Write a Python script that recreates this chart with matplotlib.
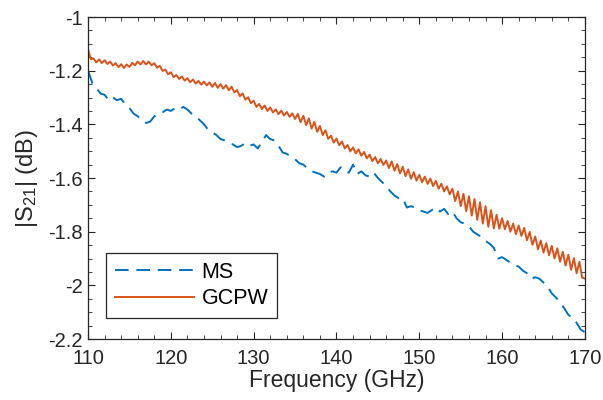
import numpy as np
import matplotlib
matplotlib.use("Agg")
from matplotlib import pyplot as plt
from matplotlib.ticker import MultipleLocator, FormatStrFormatter

# GCPW curve, every 1/3 GHz (ripple included)
freq_gcpw = np.linspace(110, 170, 181)
s21_gcpw = [
    -1.120, -1.157, -1.155, -1.169, -1.158, -1.172, -1.161, -1.175, -1.166, -1.181,
    -1.172, -1.187, -1.176, -1.190, -1.177, -1.186, -1.171, -1.180, -1.166, -1.177,
    -1.164, -1.177, -1.166, -1.180, -1.172, -1.189, -1.182, -1.201, -1.196, -1.213,
    -1.206, -1.224, -1.216, -1.231, -1.222, -1.237, -1.228, -1.243, -1.233, -1.248,
    -1.238, -1.252, -1.241, -1.255, -1.244, -1.260, -1.246, -1.264, -1.250, -1.267,
    -1.254, -1.273, -1.260, -1.281, -1.272, -1.295, -1.285, -1.308, -1.299, -1.321,
    -1.312, -1.335, -1.324, -1.343, -1.330, -1.350, -1.337, -1.356, -1.344, -1.362,
    -1.349, -1.367, -1.354, -1.372, -1.359, -1.380, -1.361, -1.392, -1.368, -1.403,
    -1.378, -1.416, -1.391, -1.428, -1.406, -1.440, -1.422, -1.454, -1.442, -1.468,
    -1.453, -1.478, -1.464, -1.490, -1.477, -1.501, -1.486, -1.508, -1.493, -1.517,
    -1.503, -1.527, -1.513, -1.537, -1.522, -1.545, -1.529, -1.551, -1.535, -1.563,
    -1.538, -1.573, -1.548, -1.583, -1.558, -1.593, -1.568, -1.603, -1.578, -1.610,
    -1.588, -1.616, -1.595, -1.622, -1.602, -1.630, -1.611, -1.640, -1.621, -1.650,
    -1.631, -1.661, -1.640, -1.686, -1.650, -1.705, -1.659, -1.724, -1.668, -1.740,
    -1.678, -1.756, -1.690, -1.770, -1.705, -1.782, -1.720, -1.788, -1.737, -1.789,
    -1.750, -1.791, -1.760, -1.800, -1.770, -1.809, -1.777, -1.816, -1.786, -1.832,
    -1.801, -1.849, -1.818, -1.866, -1.833, -1.878, -1.843, -1.888, -1.853, -1.900,
    -1.862, -1.912, -1.875, -1.926, -1.886, -1.942, -1.899, -1.955, -1.912, -1.971,
    -1.975,
]

# MS curve, read every 0.5 GHz
freq_ms = np.linspace(110, 170, 121)
s21_ms = [
    -1.200, -1.245, -1.265, -1.285, -1.290, -1.310, -1.300, -1.310, -1.305, -1.325,
    -1.340, -1.360, -1.370, -1.385, -1.395, -1.390, -1.370, -1.360, -1.355, -1.345,
    -1.350, -1.340, -1.345, -1.335, -1.345, -1.360, -1.370, -1.385, -1.400, -1.420,
    -1.430, -1.440, -1.455, -1.460, -1.470, -1.475, -1.485, -1.480, -1.470, -1.480,
    -1.475, -1.490, -1.465, -1.440, -1.455, -1.460, -1.480, -1.505, -1.510, -1.520,
    -1.530, -1.545, -1.550, -1.565, -1.575, -1.580, -1.585, -1.595, -1.580, -1.575,
    -1.580, -1.560, -1.575, -1.580, -1.550, -1.585, -1.575, -1.590, -1.595, -1.580,
    -1.600, -1.615, -1.630, -1.650, -1.665, -1.675, -1.675, -1.710, -1.705, -1.710,
    -1.720, -1.725, -1.730, -1.720, -1.710, -1.725, -1.715, -1.735, -1.725, -1.750,
    -1.765, -1.770, -1.780, -1.800, -1.810, -1.820, -1.835, -1.845, -1.860, -1.900,
    -1.895, -1.905, -1.915, -1.925, -1.930, -1.945, -1.955, -1.975, -1.970, -1.975,
    -1.990, -2.005, -2.030, -2.045, -2.065, -2.085, -2.110, -2.120, -2.140, -2.165,
    -2.175,
]

plt.rcParams['font.family'] = ['Liberation Sans', 'DejaVu Sans']
plt.rcParams['mathtext.default'] = 'regular'
plt.rcParams['axes.unicode_minus'] = False

fig = plt.figure(figsize=(6.03, 4.0), dpi=100)
ax = fig.add_axes([0.146, 0.1525, 0.824, 0.805])

ms_line, = ax.plot(freq_ms, s21_ms, color='#0072BD', lw=1.4, label='MS')
ms_line.set_dashes([7, 4])
ax.plot(freq_gcpw, s21_gcpw, color='#D95319', lw=1.4, label='GCPW')

ax.set_xlim(110, 170)
ax.set_ylim(-2.2, -1)
ax.xaxis.set_major_locator(MultipleLocator(10))
ax.xaxis.set_minor_locator(MultipleLocator(2))
ax.yaxis.set_major_locator(MultipleLocator(0.2))
ax.yaxis.set_minor_locator(MultipleLocator(0.05))
ax.yaxis.set_major_formatter(FormatStrFormatter('%g'))
ax.tick_params(which='both', direction='in', top=True, right=True,
               color='#262626', labelsize=14.5, labelcolor='#262626')
ax.tick_params(which='major', length=5, width=0.8)
ax.tick_params(which='minor', length=3, width=0.6)
ax.tick_params(axis='x', which='major', pad=7)
ax.tick_params(axis='y', which='major', pad=4)
for sp in ax.spines.values():
    sp.set_color('#262626')
    sp.set_linewidth(0.9)

ax.set_xlabel('Frequency (GHz)', fontsize=16.5, color='#262626', labelpad=1)
ax.set_ylabel('|S$_{21}$| (dB)', fontsize=17, color='#262626', labelpad=6)

leg = ax.legend(loc='lower left', bbox_to_anchor=(0.036, 0.066), fontsize=15.5,
                handlelength=3.7, handletextpad=0.35, borderpad=0.4,
                labelspacing=0.25, fancybox=False, framealpha=1,
                borderaxespad=0)
leg.get_frame().set_edgecolor('#262626')
leg.get_frame().set_linewidth(0.9)

plt.savefig('out.png', dpi=100)
